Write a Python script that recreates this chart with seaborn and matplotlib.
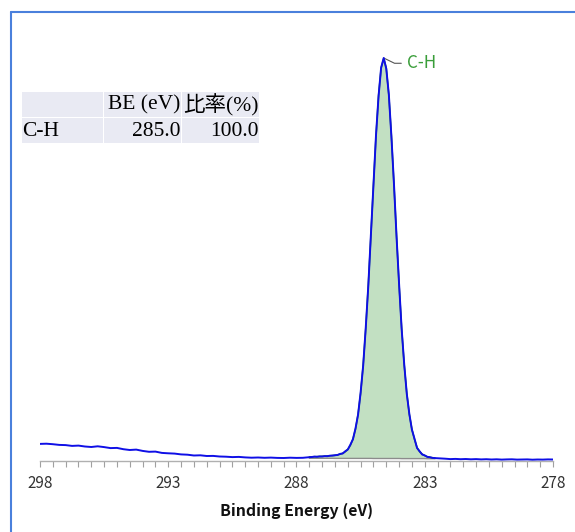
import numpy as np
import pandas as pd
import matplotlib
matplotlib.use("Agg")
import matplotlib.pyplot as plt
import seaborn as sns
from matplotlib.lines import Line2D
from matplotlib.patches import Rectangle

# ============================
# DATA
# ============================
# raw spectrum, high-BE background side (step 0.25 eV)
be_a = [298.0, 297.75, 297.5, 297.25, 297.0, 296.75, 296.5, 296.25, 296.0, 295.75,
        295.5, 295.25, 295.0, 294.75, 294.5, 294.25, 294.0, 293.75, 293.5, 293.25,
        293.0, 292.75, 292.5, 292.25, 292.0, 291.75, 291.5, 291.25, 291.0, 290.75,
        290.5, 290.25, 290.0, 289.75, 289.5, 289.25, 289.0, 288.75, 288.5, 288.25,
        288.0, 287.75]
int_a = [16.6, 16.8, 16.3, 15.6, 15.4, 14.6, 14.9, 14.0, 13.5, 14.2,
         13.4, 12.4, 12.6, 11.3, 10.5, 10.9, 9.6, 8.7, 8.9, 7.6,
         7.2, 6.9, 6.1, 5.8, 5.0, 5.2, 4.5, 4.6, 4.0, 3.8,
         3.4, 3.6, 3.1, 2.8, 3.0, 2.7, 2.9, 2.6, 2.5, 2.8,
         2.6, 2.7]

# peak region (step 0.1 eV)
be_b = [287.5, 287.4, 287.3, 287.2, 287.1, 287.0, 286.9, 286.8, 286.7, 286.6,
        286.5, 286.4, 286.3, 286.2, 286.1, 286.0, 285.9, 285.8, 285.7, 285.6,
        285.5, 285.4, 285.3, 285.2, 285.1, 285.0, 284.9, 284.8, 284.7, 284.6,
        284.5, 284.4, 284.3, 284.2, 284.1, 284.0, 283.9, 283.8, 283.7, 283.6,
        283.5, 283.4, 283.3, 283.2, 283.1, 283.0, 282.9, 282.8, 282.7, 282.6]
int_b = [3.3, 3.5, 3.9, 3.7, 4.1, 4.0, 4.4, 4.3, 4.8, 4.9,
         5.3, 5.5, 6.6, 7.0, 9.2, 11.0, 15.8, 21.2, 32.0, 45.8,
         68.0, 95.1, 132.8, 175.0, 225.6, 275.2, 325.4, 364.6, 393.0, 402.5,
         391.8, 366.0, 324.0, 276.5, 224.0, 176.2, 131.2, 96.0, 66.6, 46.4,
         30.8, 21.8, 12.5, 9.2, 6.0, 5.1, 3.6, 3.3, 2.6, 2.4]

# low-BE side (step 0.2 eV)
be_c = [282.4, 282.2, 282.0, 281.8, 281.6, 281.4, 281.2, 281.0, 280.8, 280.6,
        280.4, 280.2, 280.0, 279.8, 279.6, 279.4, 279.2, 279.0, 278.8, 278.6,
        278.4, 278.2, 278.0]
int_c = [2.1, 1.8, 1.4, 1.6, 1.3, 1.5, 1.2, 1.4, 1.1, 1.3,
         1.0, 1.2, 0.9, 1.1, 1.2, 0.9, 1.0, 1.1, 0.8, 1.0,
         0.9, 1.1, 1.0]

# fitted C-H component and background on the peak grid
fit_env = [3.6, 3.7, 3.8, 3.9, 4.0, 4.2, 4.3, 4.5, 4.7, 5.0,
           5.1, 5.7, 6.3, 7.2, 8.7, 11.1, 15.1, 21.5, 31.4, 46.2,
           67.3, 95.7, 132.0, 175.7, 224.8, 275.9, 324.7, 365.3, 392.4, 402.0,
           392.4, 365.3, 324.7, 275.9, 224.7, 175.6, 131.8, 95.5, 67.1, 46.0,
           31.2, 21.3, 12.9, 8.9, 6.4, 4.9, 3.8, 3.2, 2.8, 2.5]
fit_bkg = [2.2, 2.2, 2.2, 2.2, 2.2, 2.2, 2.2, 2.2, 2.2, 2.2,
           2.1, 2.1, 2.1, 2.1, 2.1, 2.1, 2.1, 2.1, 2.1, 2.1,
           2.1, 2.1, 2.1, 2.1, 2.1, 2.0, 2.0, 2.0, 2.0, 2.0,
           2.0, 2.0, 2.0, 2.0, 2.0, 2.0, 1.9, 1.9, 1.9, 1.9,
           1.9, 1.9, 1.9, 1.9, 1.9, 1.9, 1.8, 1.8, 1.8, 1.8]

peak_names = ["C-H"]
peak_be = [285.0]
peak_ratio = [100.0]
peak_pos = [284.6]          # where the label sits on the curve
peak_top = [402.5]

table_header = ["", "BE (eV)", "比率(%)"]
x_ticks = [298, 293, 288, 283, 278]

# ============================
# FRAMES
# ============================
raw = pd.DataFrame({"be": be_a + be_b + be_c, "counts": int_a + int_b + int_c})
fit = pd.DataFrame({"be": be_b, "env": fit_env, "bkg": fit_bkg})

# ============================
# PLOT
# ============================
sns.set_theme(style="white")
plt.rcParams["font.family"] = ["Noto Sans CJK JP", "DejaVu Sans"]

W, H = 575, 532
fig = plt.figure(figsize=(W / 100, H / 100), dpi=100)
ax = fig.add_axes([40 / W, 1 - 460.5 / H, 513 / W, 420.5 / H])

ax.fill_between(fit["be"], fit["bkg"], fit["env"], color="#c2e0c2", lw=0, zorder=1)
sns.lineplot(data=fit, x="be", y="bkg", ax=ax, color="#8c8c8c", lw=1.0, zorder=2)
sns.lineplot(data=fit, x="be", y="env", ax=ax, color="#1f7a1f", lw=1.1, zorder=3)
sns.lineplot(data=raw, x="be", y="counts", ax=ax, color="#0f0fe6", lw=1.4, zorder=4)

ax.set_xlim(298, 278)
ax.set_ylim(0, 420.5)
ax.set_xticks(x_ticks)
ax.set_xticks(np.arange(278, 298.01, 0.5), minor=True)
ax.set_yticks([])
ax.set_ylabel("")
for s in ["left", "top", "right"]:
    ax.spines[s].set_visible(False)
ax.spines["bottom"].set_color("#b0b0b0")
ax.spines["bottom"].set_linewidth(1.0)
ax.tick_params(axis="x", which="both", bottom=True, direction="out",
               length=4.5, width=0.8, color="#a0a0a0")
ax.tick_params(axis="x", which="major", labelsize=11, labelcolor="#333333", pad=6)
ax.set_xlabel("Binding Energy (eV)", fontsize=11.4, fontweight="bold",
              color="#111111", labelpad=8)

# peak label with leader
for name, pos, top in zip(peak_names, peak_pos, peak_top):
    ax.annotate(name, xy=(pos, top), xytext=(17, -3.8), textcoords="offset points",
                ha="left", va="center", fontsize=12.3, color="#3a9e3a",
                arrowprops=dict(arrowstyle="-", color="#555555", lw=0.8,
                                shrinkA=2, shrinkB=0,
                                connectionstyle="angle,angleA=0,angleB=-26"))

# ============================
# TABLE (top-left)
# ============================
def fx(x):
    return x / W

def fy(y):
    return 1 - y / H

col_edges = [(22, 103), (104, 181), (182, 259)]
row_edges = [(92, 117), (118, 143)]
for (y0, y1) in row_edges:
    for (x0, x1) in col_edges:
        fig.add_artist(Rectangle((fx(x0), fy(y1)), fx(x1) - fx(x0), fy(y0) - fy(y1),
                                 transform=fig.transFigure, facecolor="#e9eaf3",
                                 edgecolor="none"))

tfont = dict(fontsize=15.5, family=["Liberation Serif", "Noto Sans CJK JP"], color="black")
rows = [table_header]
for n, b, r in zip(peak_names, peak_be, peak_ratio):
    rows.append([n, f"{b:.1f}", f"{r:.1f}"])
for ri, row in enumerate(rows):
    yc = (row_edges[ri][0] + row_edges[ri][1]) / 2 + 0.5
    for ci, txt in enumerate(row):
        if ci == 0:
            fig.text(fx(col_edges[0][0]), fy(yc), txt, ha="left", va="center", **tfont)
        else:
            fig.text(fx(col_edges[ci][1] - 0.5), fy(yc), txt, ha="right", va="center", **tfont)

# outer blue frame (left and top edges)
fig.add_artist(Line2D([fx(11), fx(11)], [0, fy(12)], transform=fig.transFigure,
                      color="#4a80dc", lw=1.5))
fig.add_artist(Line2D([fx(11), 1], [fy(12), fy(12)], transform=fig.transFigure,
                      color="#4a80dc", lw=1.5))

fig.savefig("out.png", dpi=100, facecolor="white")
